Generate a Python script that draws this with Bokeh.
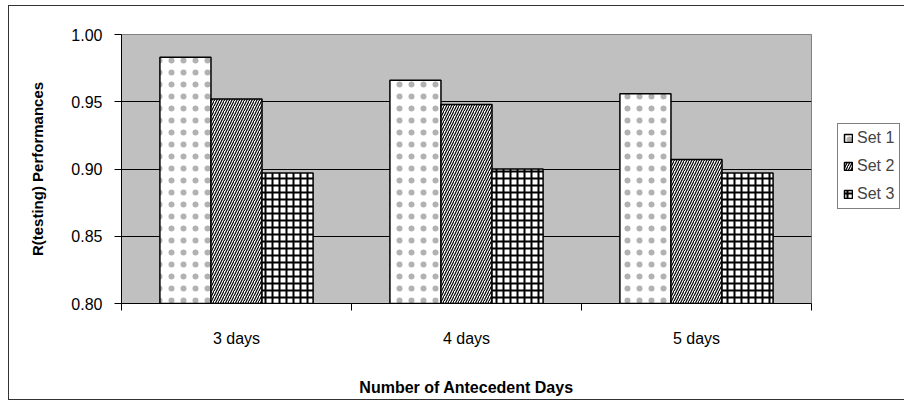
from bokeh.plotting import figure
from bokeh.models import Legend, LegendItem, FixedTicker, ColumnDataSource
from bokeh.embed import file_html
from bokeh.resources import INLINE

days = ["3 days", "4 days", "5 days"]
set1 = [0.983, 0.966, 0.956]
set2 = [0.952, 0.948, 0.907]
set3 = [0.897, 0.900, 0.897]
series_names = ["Set 1", "Set 2", "Set 3"]
y_ticks = [0.80, 0.85, 0.90, 0.95, 1.00]

FONT = "Liberation Sans"

p = figure(frame_width=690, frame_height=269, output_backend="svg",
           toolbar_location=None, x_range=(0, len(days)), y_range=(0.80, 1.00),
           min_border_left=112, min_border_right=92, min_border_top=28,
           min_border_bottom=96)
p.styles = {"border": "1px solid #333", "margin-left": "8px", "margin-top": "5px"}
p.background_fill_color = "#c0c0c0"
p.border_fill_color = "white"
p.outline_line_color = "#808080"
p.outline_line_width = 1

bar_w = 0.222
offsets = [-bar_w, 0.0, bar_w]
patterns = [dict(hatch_pattern=".", hatch_scale=12, hatch_weight=1.0, hatch_color="#555", hatch_alpha=0.45),
            dict(hatch_pattern="/", hatch_scale=5, hatch_weight=1.2, hatch_color="black"),
            dict(hatch_pattern="+", hatch_scale=7, hatch_weight=2.0, hatch_color="black")]
renderers = []
for vals, off, pat in zip([set1, set2, set3], offsets, patterns):
    src = ColumnDataSource(dict(x=[i + 0.5 + off for i in range(len(days))], top=vals))
    r = p.vbar(x="x", top="top", bottom=0.80, width=bar_w, source=src,
               fill_color="white", line_color="black", line_width=1.5, **pat)
    renderers.append(r)

# x axis: labels at category centres, ticks at category boundaries
p.xaxis.ticker = FixedTicker(ticks=[i + 0.5 for i in range(len(days))],
                             minor_ticks=list(range(len(days) + 1)))
p.xaxis.major_label_overrides = {i + 0.5: d for i, d in enumerate(days)}
p.xaxis.major_tick_line_color = None
p.xaxis.major_tick_out = 0
p.xaxis.major_tick_in = 0
p.xaxis.minor_tick_out = 7
p.xaxis.minor_tick_in = 0
p.xaxis.minor_tick_line_color = "black"
p.xaxis.axis_line_color = "black"
p.xaxis.major_label_standoff = 19
p.xaxis.major_label_text_font = FONT
p.xaxis.major_label_text_font_size = "16px"
p.xaxis.major_label_text_color = "black"
p.xaxis.axis_label = "Number of Antecedent Days"
p.xaxis.axis_label_text_font = FONT
p.xaxis.axis_label_text_font_size = "16px"
p.xaxis.axis_label_text_font_style = "bold"
p.xaxis.axis_label_text_color = "black"
p.xaxis.axis_label_standoff = 29

p.yaxis.ticker = FixedTicker(ticks=y_ticks, minor_ticks=[])
p.yaxis.major_label_overrides = {t: f"{t:.2f}" for t in y_ticks}
p.yaxis.major_tick_out = 7
p.yaxis.major_tick_in = 0
p.yaxis.major_tick_line_color = "black"
p.yaxis.axis_line_color = "black"
p.yaxis.major_label_standoff = 12
p.yaxis.major_label_text_font = FONT
p.yaxis.major_label_text_font_size = "16px"
p.yaxis.major_label_text_color = "black"
p.yaxis.axis_label = "R(testing) Performances"
p.yaxis.axis_label_text_font = FONT
p.yaxis.axis_label_text_font_size = "15px"
p.yaxis.axis_label_text_font_style = "bold"
p.yaxis.axis_label_text_color = "black"
p.yaxis.axis_label_standoff = 22

p.xgrid.grid_line_color = None
p.ygrid.ticker = FixedTicker(ticks=y_ticks)
p.ygrid.grid_line_color = "black"
p.ygrid.grid_line_width = 1

legend = Legend(items=[LegendItem(label=n, renderers=[r]) for n, r in zip(series_names, renderers)],
                location=(26, 94), orientation="vertical",
                glyph_width=10, glyph_height=10, spacing=10, padding=5, margin=0,
                label_text_font=FONT, label_text_font_size="16px",
                label_standoff=4, border_line_color="black", border_line_width=1,
                background_fill_color="white", background_fill_alpha=1)
p.add_layout(legend, "right")

open("out.html", "w").write(file_html(p, INLINE))
